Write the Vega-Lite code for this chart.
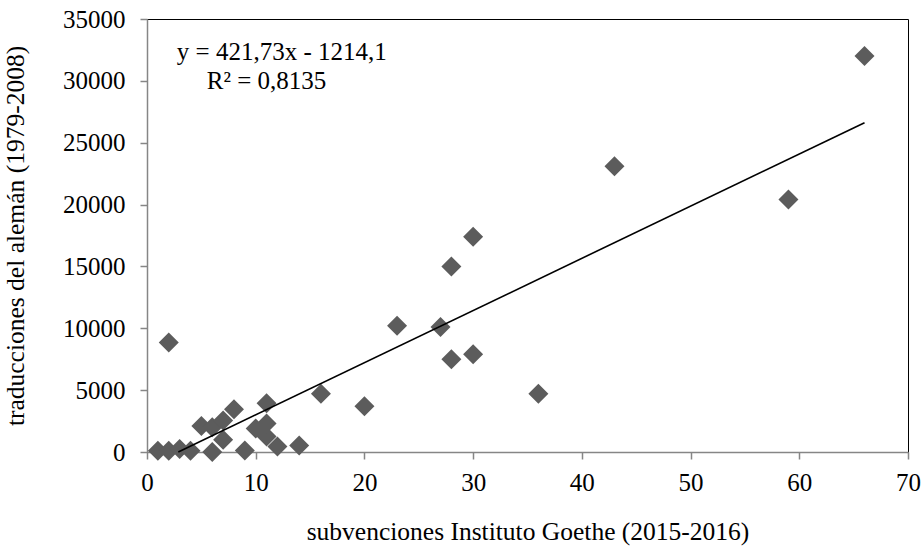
{
  "$schema": "https://vega.github.io/schema/vega-lite/v6.json",
  "width": 761,
  "height": 433,
  "autosize": {"type": "none"},
  "padding": {"left": 147, "top": 19, "right": 15, "bottom": 96},
  "background": "white",
  "config": {
    "view": {"stroke": "#000000", "strokeWidth": 1},
    "axis": {
      "labelFont": "Liberation Serif",
      "titleFont": "Liberation Serif",
      "labelFontSize": 25,
      "titleFontSize": 25.5,
      "labelColor": "#000000",
      "titleColor": "#000000",
      "titleFontWeight": "normal",
      "domainColor": "#868686",
      "tickColor": "#868686",
      "domainWidth": 1.5,
      "tickWidth": 1.5,
      "grid": false,
      "tickSize": 7,
      "labelFlush": false
    }
  },
  "datasets": {
    "points": [
      {"subvenciones": 1, "traducciones": 100},
      {"subvenciones": 2, "traducciones": 100},
      {"subvenciones": 3, "traducciones": 250},
      {"subvenciones": 4, "traducciones": 100},
      {"subvenciones": 2, "traducciones": 8850},
      {"subvenciones": 5, "traducciones": 2100},
      {"subvenciones": 6, "traducciones": 2000},
      {"subvenciones": 6, "traducciones": 0},
      {"subvenciones": 7, "traducciones": 2550},
      {"subvenciones": 7, "traducciones": 1000},
      {"subvenciones": 8, "traducciones": 3450},
      {"subvenciones": 9, "traducciones": 130},
      {"subvenciones": 10, "traducciones": 1900},
      {"subvenciones": 11, "traducciones": 1250},
      {"subvenciones": 11, "traducciones": 2300},
      {"subvenciones": 11, "traducciones": 3950},
      {"subvenciones": 12, "traducciones": 450},
      {"subvenciones": 14, "traducciones": 520},
      {"subvenciones": 16, "traducciones": 4700},
      {"subvenciones": 20, "traducciones": 3700},
      {"subvenciones": 23, "traducciones": 10200},
      {"subvenciones": 27, "traducciones": 10100},
      {"subvenciones": 28, "traducciones": 15000},
      {"subvenciones": 28, "traducciones": 7500},
      {"subvenciones": 30, "traducciones": 17400},
      {"subvenciones": 30, "traducciones": 7900},
      {"subvenciones": 36, "traducciones": 4700},
      {"subvenciones": 43, "traducciones": 23100},
      {"subvenciones": 59, "traducciones": 20400},
      {"subvenciones": 66, "traducciones": 32000}
    ],
    "trend": [
      {"subvenciones": 2.879, "traducciones": 0},
      {"subvenciones": 66, "traducciones": 26620}
    ]
  },
  "layer": [
    {
      "data": {"name": "points"},
      "mark": {"type": "point", "shape": "diamond", "filled": true, "size": 400, "color": "#5c5c5c", "opacity": 1},
      "encoding": {
        "x": {
          "field": "subvenciones",
          "type": "quantitative",
          "scale": {"domain": [0, 70], "nice": false, "zero": false},
          "axis": {
            "values": [0, 10, 20, 30, 40, 50, 60, 70],
            "title": "subvenciones Instituto Goethe (2015-2016)",
            "labelPadding": 11,
            "titlePadding": 24
          }
        },
        "y": {
          "field": "traducciones",
          "type": "quantitative",
          "scale": {"domain": [0, 35000], "nice": false},
          "axis": {
            "values": [0, 5000, 10000, 15000, 20000, 25000, 30000, 35000],
            "format": "d",
            "title": "traducciones del alemán (1979-2008)",
            "labelPadding": 15,
            "titlePadding": 34
          }
        }
      }
    },
    {
      "data": {"name": "trend"},
      "mark": {"type": "line", "color": "#000000", "strokeWidth": 1.6},
      "encoding": {
        "x": {"field": "subvenciones", "type": "quantitative"},
        "y": {"field": "traducciones", "type": "quantitative"}
      }
    },
    {
      "data": {"values": [{"label": "y = 421,73x - 1214,1"}]},
      "mark": {"type": "text", "font": "Liberation Serif", "fontSize": 25, "color": "#000000", "align": "center", "baseline": "middle"},
      "encoding": {
        "x": {"datum": 12.4, "type": "quantitative"},
        "y": {"datum": 32300, "type": "quantitative"},
        "text": {"field": "label"}
      }
    },
    {
      "data": {"values": [{"label": "R² = 0,8135"}]},
      "mark": {"type": "text", "font": "Liberation Serif", "fontSize": 25, "color": "#000000", "align": "center", "baseline": "middle"},
      "encoding": {
        "x": {"datum": 11.0, "type": "quantitative"},
        "y": {"datum": 30000, "type": "quantitative"},
        "text": {"field": "label"}
      }
    }
  ]
}
